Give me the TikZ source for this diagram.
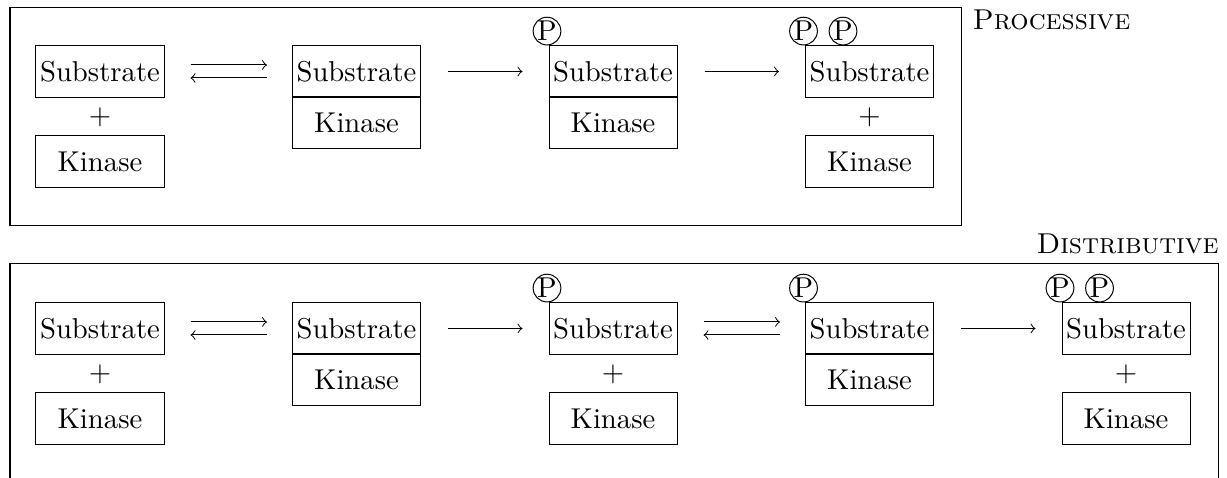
\documentclass[tikz,border=0pt]{standalone}
\usetikzlibrary{calc}
\begin{document}
\begin{tikzpicture}[x=0.3484pt,y=-0.3484pt,
  every path/.style={line width=0.35pt},
  box/.style={draw, minimum width=44.6pt, minimum height=17.8pt, inner sep=0pt},
  phos/.style={circle, draw, inner sep=0pt, minimum size=8.9pt, anchor=south},
  plus/.style={inner sep=0pt},
  lbl/.style={inner sep=0pt},
  rxn/.style={->}]
\useasboundingbox (0,0) rectangle (1227,478);
% frames
\draw (10,8) rectangle (961,226);
\draw (10,264) rectangle (1218,483);
\node[lbl, anchor=base west] (proc) at (972,30) {\textsc{Processive}};
\node[lbl, anchor=base east] (dist) at (1219,254) {\textsc{Distributive}};

% ---------- top row ----------
\node[box] (a1s) at (100,71.5) {Substrate};
\node[plus] (a1p) at (100,117) {$+$};
\node[box] (a1k) at (100,161.5) {Kinase};

\node[box] (a2s) at (356.5,71.5) {Substrate};
\node[box] (a2k) at (356.5,122.5) {Kinase};

\node[box] (a3s) at (613,71.5) {Substrate};
\node[box] (a3k) at (613,122.5) {Kinase};
\node[phos] (a3p) at ($(a3s.north west)+(-1.5,0)$) {P};

\node[box] (a4s) at (869.5,71.5) {Substrate};
\node[plus] (a4p) at (869.5,117) {$+$};
\node[box] (a4k) at (869.5,161.5) {Kinase};
\node[phos] (a4pa) at ($(a4s.north west)+(-1.5,0)$) {P};
\node[phos] (a4pb) at ($(a4s.north west)+(38,0)$) {P};

\draw[rxn] ($(a1s.east)+(26,-6.5)$) -- ($(a2s.west)+(-25,-6.5)$);
\draw[rxn] ($(a2s.west)+(-25,6.5)$) -- ($(a1s.east)+(26,6.5)$);
\draw[rxn] ($(a2s.east)+(27,0)$) -- ($(a3s.west)+(-26,0)$);
\draw[rxn] ($(a3s.east)+(27,0)$) -- ($(a4s.west)+(-26,0)$);

% ---------- bottom row ----------
\node[box] (b1s) at (100,328.5) {Substrate};
\node[plus] (b1p) at (100,374) {$+$};
\node[box] (b1k) at (100,418.5) {Kinase};

\node[box] (b2s) at (356.5,328.5) {Substrate};
\node[box] (b2k) at (356.5,379.5) {Kinase};

\node[box] (b3s) at (613,328.5) {Substrate};
\node[plus] (b3p) at (613,374) {$+$};
\node[box] (b3k) at (613,418.5) {Kinase};
\node[phos] (b3pa) at ($(b3s.north west)+(-1.5,0)$) {P};

\node[box] (b4s) at (869.5,328.5) {Substrate};
\node[box] (b4k) at (869.5,379.5) {Kinase};
\node[phos] (b4pa) at ($(b4s.north west)+(-1.5,0)$) {P};

\node[box] (b5s) at (1126,328.5) {Substrate};
\node[plus] (b5p) at (1126,374) {$+$};
\node[box] (b5k) at (1126,418.5) {Kinase};
\node[phos] (b5pa) at ($(b5s.north west)+(-1.5,0)$) {P};
\node[phos] (b5pb) at ($(b5s.north west)+(38,0)$) {P};

\draw[rxn] ($(b1s.east)+(26,-6.5)$) -- ($(b2s.west)+(-25,-6.5)$);
\draw[rxn] ($(b2s.west)+(-25,6.5)$) -- ($(b1s.east)+(26,6.5)$);
\draw[rxn] ($(b2s.east)+(27,0)$) -- ($(b3s.west)+(-26,0)$);
\draw[rxn] ($(b3s.east)+(26,-6.5)$) -- ($(b4s.west)+(-25,-6.5)$);
\draw[rxn] ($(b4s.west)+(-25,6.5)$) -- ($(b3s.east)+(26,6.5)$);
\draw[rxn] ($(b4s.east)+(27,0)$) -- ($(b5s.west)+(-26,0)$);
\end{tikzpicture}
\end{document}
